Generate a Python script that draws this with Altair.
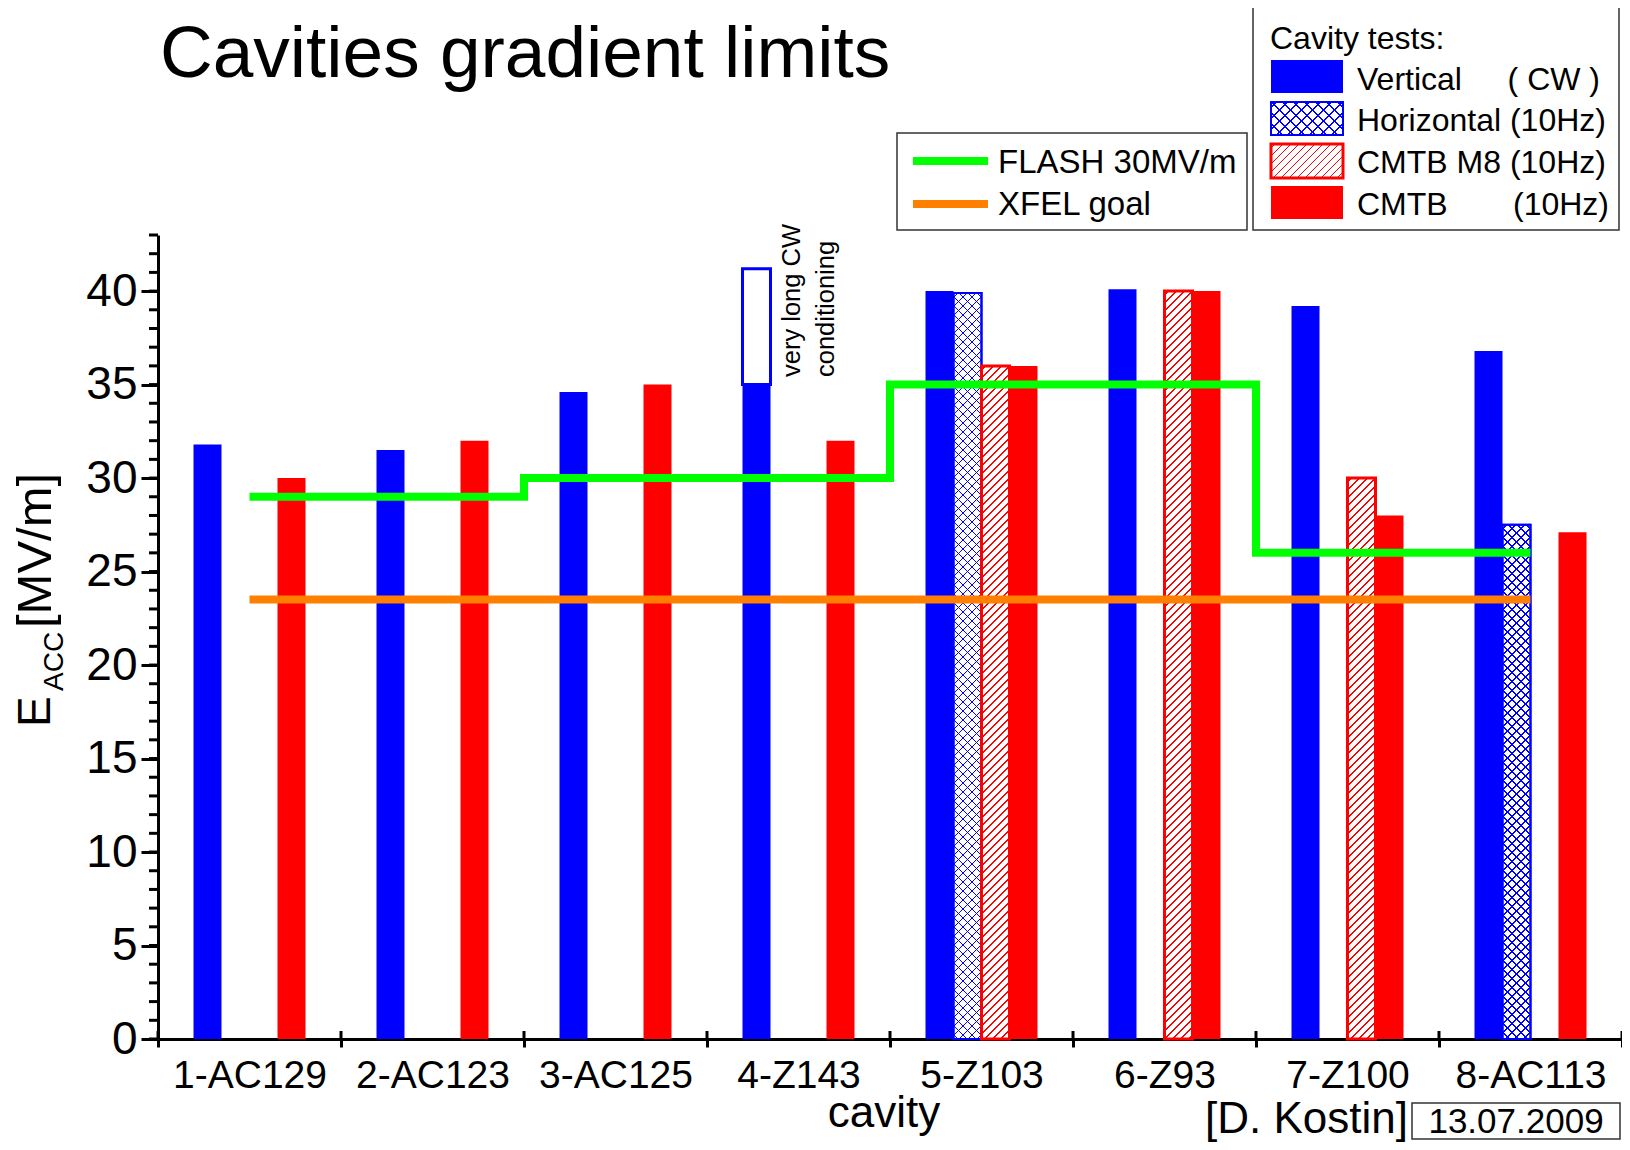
import math
import altair as alt
import pandas as pd

# ---------------- data ----------------
cavities = ["1-AC129", "2-AC123", "3-AC125", "4-Z143", "5-Z103", "6-Z93", "7-Z100", "8-AC113"]
tests = ["Vertical", "Horizontal", "CMTB M8", "CMTB"]
vertical = [31.8, 31.5, 34.6, 35.0, 40.0, 40.1, 39.2, 36.8]
horizontal = [None, None, None, None, 39.9, None, None, 27.5]
cmtb_m8 = [None, None, None, None, 36.0, 40.0, 30.0, None]
cmtb = [30.0, 32.0, 35.0, 32.0, 36.0, 40.0, 28.0, 27.1]
flash_limit = [29.0, 29.0, 30.0, 30.0, 35.0, 35.0, 26.0, 26.0]
xfel_goal = [23.5, 23.5, 23.5, 23.5, 23.5, 23.5, 23.5, 23.5]
cw_cavity = ["4-Z143"]
cw_test = ["Vertical"]
cw_from = [35.0]
cw_to = [41.2]
y_labels = [0, 5, 10, 15, 20, 25, 30, 35, 40]
y_minor = [0, 1, 2, 3, 4, 5, 6, 7, 8, 9, 10, 11, 12, 13, 14, 15, 16, 17, 18, 19, 20,
           21, 22, 23, 24, 25, 26, 27, 28, 29, 30, 31, 32, 33, 34, 35, 36, 37, 38, 39,
           40, 41, 42, 43]

rows = []
for name, vals in zip(tests, [vertical, horizontal, cmtb_m8, cmtb]):
    for c, v in zip(cavities, vals):
        if v is not None:
            rows.append({"cavity": c, "test": name, "value": v})
bars_df = pd.DataFrame(rows)
lines_df = pd.DataFrame({"cavity": cavities, "flash": flash_limit, "xfel": xfel_goal})
cw_df = pd.DataFrame({"cavity": cw_cavity, "test": cw_test, "low": cw_from, "high": cw_to})
minor_df = pd.DataFrame({"tick": y_minor})
cav_df = pd.DataFrame({"cavity": cavities})
last_df = pd.DataFrame({"cavity": cavities[-1:]})
one = pd.DataFrame({"k": [0]})

# ---------------- layout / style ----------------
PLOT_W, PLOT_H, Y_MAX = 1464, 804, 43
OFF_DOMAIN = [" "] + tests + ["  "]   # empty side slots keep the 4 bars centred
OFF_PAD = 0.268
STEP = PLOT_W / len(cavities)
SLOT = STEP / (len(OFF_DOMAIN) + 2 * OFF_PAD)
PXU = PLOT_H / Y_MAX
REG = "Liberation Sans, Arial, Helvetica, sans-serif"
BLUE, RED, GREEN, ORANGE = "#0000ff", "#ff0000", "#00ff00", "#ff8000"
CLEAR = "rgba(255,255,255,0)"


def stripes(w, h, period, lw, color, bg, slash=True):
    L = w + h
    if slash:
        a, u1 = 1.0, 0.0
    else:
        a, u1 = -1.0, 1.0
    A = a * w / L
    B = h / L
    n2 = A * A + B * B
    x1, y1 = u1, 0.0
    x2, y2 = u1 + A / n2, B / n2
    tp = period / L
    half = lw * math.sqrt(2) / 2 / L
    stops = [alt.GradientStop(offset=0, color=bg)]
    k = 0
    while (k + 0.5) * tp - half < 1:
        cpos = (k + 0.5) * tp
        s0 = round(max(0.0, cpos - half), 5)
        s1 = round(min(1.0, cpos + half), 5)
        stops += [alt.GradientStop(offset=s0, color=bg), alt.GradientStop(offset=s0, color=color),
                  alt.GradientStop(offset=s1, color=color), alt.GradientStop(offset=s1, color=bg)]
        k += 1
    stops.append(alt.GradientStop(offset=1, color=bg))
    return alt.LinearGradient(gradient="linear", stops=stops, x1=round(x1, 5), y1=round(y1, 5),
                              x2=round(x2, 5), y2=round(y2, 5))


x_scale = alt.Scale(domain=cavities, type="band", paddingInner=0, paddingOuter=0)
x_axis = alt.Axis(title=None, tickBand="extent", tickSize=8, tickWidth=3, tickColor="black",
                  domainColor="black", domainWidth=3, labelFont=REG, labelFontSize=39,
                  labelColor="black", labelPadding=9, labelOverlap=False, labelLimit=400,
                  labelAngle=0, grid=False)
y_scale = alt.Scale(domain=[0, Y_MAX], nice=False, zero=True)
y_axis = alt.Axis(title=None, values=y_labels, tickSize=17, tickWidth=3, tickColor="black",
                  domainColor="black", domainWidth=3, labelFont=REG, labelFontSize=46,
                  labelColor="black", labelPadding=4, grid=False, labelFlush=False)
off_scale = alt.Scale(domain=OFF_DOMAIN, paddingInner=0, paddingOuter=OFF_PAD)


def xenc(**kw):
    return alt.X("cavity:N", scale=x_scale, axis=x_axis, **kw)


def yenc(field):
    return alt.Y(field, scale=y_scale, axis=y_axis)


xoff = alt.XOffset("test:N", scale=off_scale)

layers = []

# solid bars
layers.append(
    alt.Chart(bars_df).transform_filter("datum.test == 'Vertical' || datum.test == 'CMTB'")
    .mark_bar().encode(
        x=xenc(), xOffset=xoff, y=yenc("value:Q"),
        color=alt.Color("test:N", scale=alt.Scale(domain=["Vertical", "CMTB"], range=[BLUE, RED]),
                        legend=None))
)

# hatched bars (each with its own hatch fill)
for r in rows:
    if r["test"] not in ("Horizontal", "CMTB M8"):
        continue
    h = r["value"] * PXU
    flt = f"datum.test == '{r['test']}' && datum.cavity == '{r['cavity']}'"
    base = alt.Chart(bars_df).transform_filter(flt)
    enc = dict(x=xenc(), xOffset=xoff, y=yenc("value:Q"))
    if r["test"] == "Horizontal":
        layers.append(base.mark_bar(fill=stripes(SLOT, h, 9, 1.3, BLUE, "white", True),
                                    stroke=BLUE, strokeWidth=2).encode(**enc))
        layers.append(base.mark_bar(fill=stripes(SLOT, h, 9, 1.3, BLUE, CLEAR, False),
                                    stroke=BLUE, strokeWidth=2).encode(**enc))
    else:
        layers.append(base.mark_bar(fill=stripes(SLOT, h, 8, 1.3, RED, "white", True),
                                    stroke=RED, strokeWidth=3).encode(**enc))

# very long CW conditioning box
layers.append(
    alt.Chart(cw_df).mark_bar(fill="white", stroke=BLUE, strokeWidth=3).encode(
        x=xenc(), xOffset=xoff, y=yenc("low:Q"), y2="high:Q")
)

# FLASH / XFEL step lines
layers.append(
    alt.Chart(lines_df).mark_line(color=GREEN, strokeWidth=8, interpolate="step").encode(
        x=xenc(bandPosition=0.5), y=yenc("flash:Q"))
)
layers.append(
    alt.Chart(lines_df).mark_line(color=ORANGE, strokeWidth=8, interpolate="step").encode(
        x=xenc(bandPosition=0.5), y=yenc("xfel:Q"))
)

# minor y ticks
layers.append(
    alt.Chart(minor_df).mark_rule(color="black", strokeWidth=3).encode(
        y=yenc("tick:Q"), x=alt.value(-9), x2=alt.value(0))
)
# upward parts of x ticks
layers.append(
    alt.Chart(cav_df).mark_rule(color="black", strokeWidth=3).encode(
        x=xenc(bandPosition=0), y=alt.value(PLOT_H - 8), y2=alt.value(PLOT_H))
)
layers.append(
    alt.Chart(last_df).mark_rule(color="black", strokeWidth=3).encode(
        x=xenc(bandPosition=1), y=alt.value(PLOT_H - 8), y2=alt.value(PLOT_H))
)


def txt(text, x, y, size, font=REG, align="left", angle=0, baseline="alphabetic"):
    props = dict(text=text, font=font, fontSize=size, align=align, baseline=baseline, color="black")
    if angle:
        props["angle"] = angle
    return alt.Chart(one).mark_text(**props).encode(x=alt.value(x), y=alt.value(y))


def rect(x0, x1, y0, y1, **props):
    return alt.Chart(one).mark_rect(**props).encode(
        x=alt.value(x0), x2=alt.value(x1), y=alt.value(y0), y2=alt.value(y1))


def hline(x0, x1, y, color, width):
    return alt.Chart(one).mark_rule(color=color, strokeWidth=width).encode(
        x=alt.value(x0), x2=alt.value(x1), y=alt.value(y))


# annotation text
layers.append(txt("very long CW", 642, 142, 25.5, angle=270))
layers.append(txt("conditioning", 676, 142, 25.5, angle=270))

# title
layers.append(txt("Cavities gradient limits", 2, -158, 73))

# y axis title
layers.append(txt("E", -108, 492, 46, angle=270))
layers.append(txt("ACC", -95, 456, 28, angle=270))
layers.append(txt("[MV/m]", -107, 393, 49, angle=270))

# x axis title and footer
layers.append(txt("cavity", 726, 892, 44, align="center"))
layers.append(txt("[D. Kostin]", 1250, 898, 44, align="right"))
layers.append(rect(1254, 1462, 868, 904, fill="white", stroke="#333333", strokeWidth=1.5))
layers.append(txt("13.07.2009", 1358, 898, 35, align="center"))

# legend 1 (lines)
layers.append(rect(739, 1089, -102, -5, fill="white", stroke="#333333", strokeWidth=1.5))
layers.append(hline(755, 830, -74, GREEN, 8))
layers.append(hline(755, 830, -31, ORANGE, 8))
layers.append(txt("FLASH 30MV/m", 840, -62, 33))
layers.append(txt("XFEL goal", 840, -20, 33))

# legend 2 (cavity tests)
layers.append(rect(1095, 1461, -229, -5, fill="white", stroke="#333333", strokeWidth=1.5))
layers.append(txt("Cavity tests:", 1112, -186, 32))
SW_X0, SW_X1 = 1113, 1185
layers.append(rect(SW_X0, SW_X1, -175, -142, fill=BLUE))
layers.append(rect(SW_X0, SW_X1, -133, -100, fill=stripes(SW_X1 - SW_X0, 33, 11, 1.3, BLUE, "white", True),
                   stroke=BLUE, strokeWidth=2))
layers.append(rect(SW_X0, SW_X1, -133, -100, fill=stripes(SW_X1 - SW_X0, 33, 11, 1.3, BLUE, CLEAR, False),
                   stroke=BLUE, strokeWidth=2))
layers.append(rect(SW_X0, SW_X1, -91, -57, fill=stripes(SW_X1 - SW_X0, 34, 8, 1.3, RED, "white", True),
                   stroke=RED, strokeWidth=3))
layers.append(rect(SW_X0, SW_X1, -49, -16, fill=RED))
layers.append(txt("Vertical", 1199, -145, 32))
layers.append(txt("( CW )", 1442, -145, 32, align="right"))
layers.append(txt("Horizontal (10Hz)", 1199, -104, 32))
layers.append(txt("CMTB M8 (10Hz)", 1199, -62, 32))
layers.append(txt("CMTB", 1199, -20, 32))
layers.append(txt("(10Hz)", 1451, -20, 32, align="right"))

chart = alt.layer(*layers).properties(
    width=PLOT_W, height=PLOT_H,
    autosize=alt.AutoSizeParams(type="none"),
    padding={"left": 150, "top": 227, "right": 0, "bottom": 103},
).configure_view(stroke=None)

chart.save("out.html", embed_options={"renderer": "svg", "actions": False})
